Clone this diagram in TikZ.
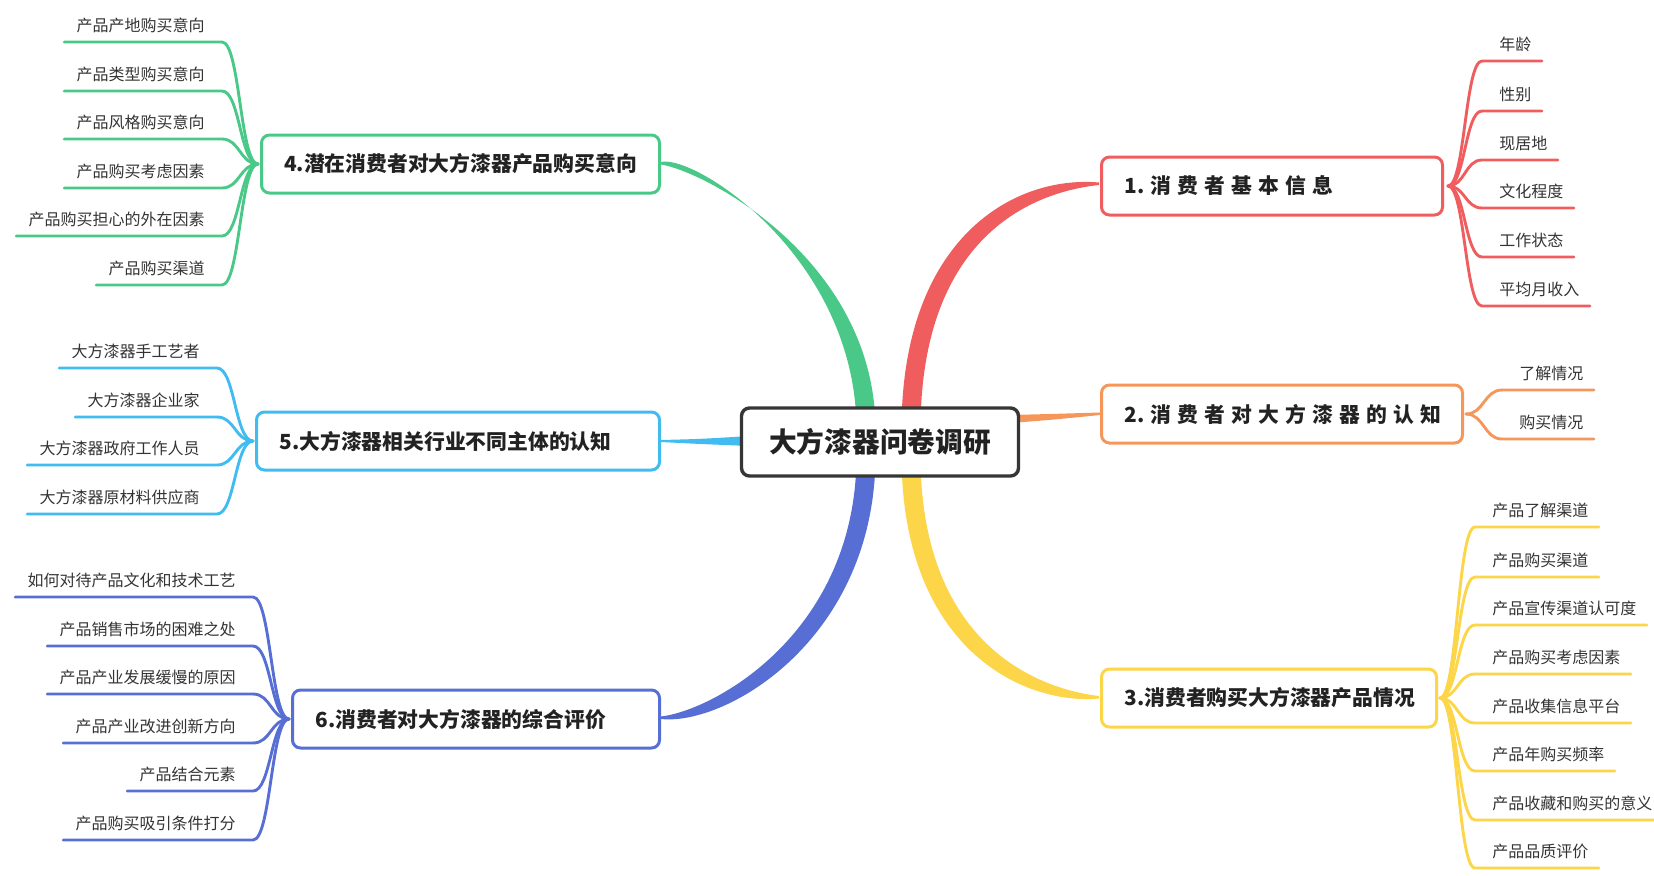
\documentclass[tikz,border=0pt]{standalone}
\usepackage{fontspec}
\setmainfont{Noto Sans CJK SC}
\usetikzlibrary{calc}
\definecolor{cred}{HTML}{F05D5F}
\definecolor{corange}{HTML}{F5965A}
\definecolor{cyellow}{HTML}{FDD548}
\definecolor{cgreen}{HTML}{4AC888}
\definecolor{clblue}{HTML}{40BCF0}
\definecolor{cblue}{HTML}{576FD4}
\definecolor{cgray}{HTML}{363636}
\definecolor{txt}{HTML}{222222}
\definecolor{kidtxt}{HTML}{333333}
\newcommand{\spk}{\kern3.1pt}
\tikzset{
  kid/.style={font=\fontsize{8}{10}\selectfont, text=kidtxt, inner sep=0pt},
  kidline/.style={line width=1.45pt, line cap=round},
  mainbox/.style={draw, line width=1.5pt, rounded corners=4pt, fill=white,
    inner xsep=11.5pt, minimum height=29pt,
    font=\bfseries\fontsize{10.4}{12}\selectfont, text=txt},
  centerbox/.style={draw=cgray, line width=1.7pt, rounded corners=4pt, fill=white,
    minimum width=138.5pt, minimum height=34pt,
    font=\bfseries\fontsize{13.85}{16}\selectfont, text=txt},
}
% right child: name, fork, xtext, yline, color, text
\newcommand{\rkid}[6]{%
  \node[kid, anchor=base west] (#1) at (#3,#4-11) {#6};
  \coordinate (#1a) at (#3-17,#4);
  \coordinate (#1b) at ($(#1.east |- #1a)+(10,0)$);
  \draw[kidline, #5] (#2) .. controls ($(#2)!0.5!(#1a |- #2)$) and ($(#1a)!0.5!(#2 |- #1a)$) .. (#1a) -- (#1b);
}
% left child: name, fork, xtext(right), yline, color, text
\newcommand{\lkid}[6]{%
  \node[kid, anchor=base east] (#1) at (#3,#4-11) {#6};
  \coordinate (#1a) at (#3+17,#4);
  \coordinate (#1b) at ($(#1.west |- #1a)+(-12,0)$);
  \draw[kidline, #5] (#2) .. controls ($(#2)!0.5!(#1a |- #2)$) and ($(#1a)!0.5!(#2 |- #1a)$) .. (#1a) -- (#1b);
}
\begin{document}
\begin{tikzpicture}[x=0.5pt,y=-0.5pt]
\useasboundingbox (0,0) rectangle (1654,875);

% main tapered branches
\fill[cred] (901.5,430) .. controls (901.5,238) and (1014,175) .. (1099,182.5)
  -- (1099,185) .. controls (1024,193) and (920.5,244) .. (920.5,430) -- cycle;
\fill[cgreen] (856.5,430) .. controls (856.5,258) and (695,154) .. (661,162)
  -- (661,164.5) .. controls (707,172) and (875.5,262) .. (875.5,430) -- cycle;
\fill[cblue] (856.5,455) .. controls (856.5,632) and (715,710) .. (661,716.5)
  -- (661,719) .. controls (727,726) and (875.5,638) .. (875.5,455) -- cycle;
\fill[cyellow] (901.5,455) .. controls (901.5,648) and (1023,705.5) .. (1099,698.5)
  -- (1099,696) .. controls (1035,688.5) and (920.5,642) .. (920.5,455) -- cycle;
\fill[corange] (1010,415) .. controls (1050,414) .. (1100,412.5)
  -- (1100,415) .. controls (1050,420) .. (1010,423) -- cycle;
\fill[clblue] (750,436) .. controls (700,439) .. (661,440)
  -- (661,442) .. controls (700,444) .. (750,446) -- cycle;

% main nodes
\node[mainbox, draw=cred, anchor=west] (n1) at (1100,186)
  {\makebox[147.5pt][l]{1.\spk 消\spk 费\spk 者\spk 基\spk 本\spk 信\spk 息}};
\node[mainbox, draw=corange, anchor=west] (n2) at (1100,414)
  {\makebox[157.5pt][l]{2.\spk 消\spk 费\spk 者\spk 对\spk 大\spk 方\spk 漆\spk 器\spk 的\spk 认\spk 知}};
\node[mainbox, draw=cyellow, anchor=west] (n3) at (1100,698)
  {\makebox[144.5pt][l]{3.消费者购买大方漆器产品情况}};
\node[mainbox, draw=cgreen, anchor=east] (n4) at (661,164)
  {\makebox[176pt][c]{4.潜在消费者对大方漆器产品购买意向}};
\node[mainbox, draw=clblue, anchor=east] (n5) at (661,441)
  {\makebox[178.5pt][l]{5.大方漆器相关行业不同主体的认知}};
\node[mainbox, draw=cblue, anchor=east] (n6) at (661,719)
  {\makebox[160.5pt][l]{6.消费者对大方漆器的综合评价}};

\node[centerbox] (c) at (880,442) {大方漆器问卷调研};

% forks
\coordinate (f1) at ($(n1.east)+(4,0)$);
\coordinate (f2) at ($(n2.east)+(2,0)$);
\coordinate (f3) at ($(n3.east)+(2,0)$);
\coordinate (f4) at ($(n4.west)+(-2,0)$);
\coordinate (f5) at ($(n5.west)+(-2,0)$);
\coordinate (f6) at ($(n6.west)+(-2,0)$);

% children of 1
\rkid{a1}{f1}{1499}{61}{cred}{年龄}
\rkid{a2}{f1}{1499}{111}{cred}{性别}
\rkid{a3}{f1}{1499}{160}{cred}{现居地}
\rkid{a4}{f1}{1499}{208}{cred}{文化程度}
\rkid{a5}{f1}{1499}{257}{cred}{工作状态}
\rkid{a6}{f1}{1499}{306}{cred}{平均月收入}
% children of 2
\rkid{b1}{f2}{1519}{390}{corange}{了解情况}
\rkid{b2}{f2}{1519}{439}{corange}{购买情况}
% children of 3
\rkid{d1}{f3}{1492}{527}{cyellow}{产品了解渠道}
\rkid{d2}{f3}{1492}{577}{cyellow}{产品购买渠道}
\rkid{d3}{f3}{1492}{625}{cyellow}{产品宣传渠道认可度}
\rkid{d4}{f3}{1492}{674}{cyellow}{产品购买考虑因素}
\rkid{d5}{f3}{1492}{723}{cyellow}{产品收集信息平台}
\rkid{d6}{f3}{1492}{771}{cyellow}{产品年购买频率}
\rkid{d7}{f3}{1492}{820}{cyellow}{产品收藏和购买的意义}
\rkid{d8}{f3}{1492}{868}{cyellow}{产品品质评价}
% children of 4
\lkid{e1}{f4}{205}{42}{cgreen}{产品产地购买意向}
\lkid{e2}{f4}{205}{91}{cgreen}{产品类型购买意向}
\lkid{e3}{f4}{205}{139}{cgreen}{产品风格购买意向}
\lkid{e4}{f4}{205}{188}{cgreen}{产品购买考虑因素}
\lkid{e5}{f4}{205}{236}{cgreen}{产品购买担心的外在因素}
\lkid{e6}{f4}{205}{285}{cgreen}{产品购买渠道}
% children of 5
\lkid{g1}{f5}{200}{368}{clblue}{大方漆器手工艺者}
\lkid{g2}{f5}{200}{417}{clblue}{大方漆器企业家}
\lkid{g3}{f5}{200}{465}{clblue}{大方漆器政府工作人员}
\lkid{g4}{f5}{200}{514}{clblue}{大方漆器原材料供应商}
% children of 6
\lkid{h1}{f6}{236}{597}{cblue}{如何对待产品文化和技术工艺}
\lkid{h2}{f6}{236}{646}{cblue}{产品销售市场的困难之处}
\lkid{h3}{f6}{236}{694}{cblue}{产品产业发展缓慢的原因}
\lkid{h4}{f6}{236}{743}{cblue}{产品产业改进创新方向}
\lkid{h5}{f6}{236}{791}{cblue}{产品结合元素}
\lkid{h6}{f6}{236}{840}{cblue}{产品购买吸引条件打分}
\end{tikzpicture}
\end{document}
